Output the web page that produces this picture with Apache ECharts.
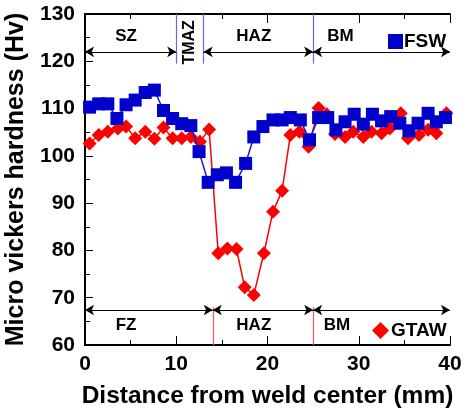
<!DOCTYPE html>
<html>
<head>
<meta charset="utf-8">
<script src="https://cdn.jsdelivr.net/npm/echarts@6/dist/echarts.min.js"></script>
<style>
  html, body { margin: 0; padding: 0; background: #fff; }
  #chart { width: 465px; height: 409px; }
</style>
</head>
<body>
<div id="chart"></div>
<script>
// hardness profiles (distance mm, hardness Hv)
const fswX = [0.5, 1.5, 2.5, 3.5, 4.5, 5.5, 6.6, 7.6, 8.6, 9.6, 10.6, 11.6, 12.5, 13.5, 14.5, 15.5, 16.5, 17.6, 18.5, 19.5,
  20.6, 21.6, 22.5, 23.6, 24.6, 25.6, 26.6, 27.5, 28.5, 29.5, 30.5, 31.5, 32.5, 33.5, 34.5, 35.5, 36.5, 37.6, 38.5, 39.5];
const fswY = [110.3, 111.0, 111.0, 107.9, 110.8, 111.8, 113.4, 113.9, 109.6, 107.9, 106.8, 106.4, 100.9, 94.4, 96.0, 96.4, 94.4, 98.4, 104.0, 106.2,
  107.6, 107.6, 108.1, 107.6, 103.4, 108.1, 108.1, 105.5, 107.2, 108.8, 106.7, 108.8, 107.4, 108.3, 106.9, 105.3, 106.9, 109.0, 107.2, 108.1];
const gtawX = [0.5, 1.5, 2.5, 3.6, 4.5, 5.5, 6.6, 7.6, 8.6, 9.6, 10.6, 11.6, 12.6, 13.6, 14.6, 15.6, 16.6, 17.5, 18.5, 19.6,
  20.6, 21.6, 22.5, 23.5, 24.5, 25.6, 26.5, 27.4, 28.5, 29.4, 30.5, 31.4, 32.5, 33.4, 34.6, 35.4, 36.6, 37.6, 38.5, 39.6];
const gtawY = [102.6, 104.4, 105.1, 105.8, 106.2, 103.7, 105.1, 103.6, 106.0, 103.7, 103.7, 104.0, 103.0, 105.6, 79.4, 80.4, 80.3, 72.2, 70.6, 79.4,
  88.2, 92.6, 104.4, 105.1, 101.9, 110.1, 108.8, 104.6, 104.0, 105.1, 104.0, 105.1, 104.8, 105.8, 109.0, 103.7, 104.4, 105.5, 104.8, 109.0];

// zone boundaries (mm) and zone labels: [from, to, name, label x]
const fswBounds = [10, 13, 25];
const fswZones = [[0, 10, "SZ", 4.5], [13, 25, "HAZ", 18.5], [25, 40, "BM", 28]];
const gtawBounds = [14, 25];
const gtawZones = [[0, 14, "FZ", 4.5], [14, 25, "HAZ", 18.5], [25, 40, "BM", 27.6]];

const chart = echarts.init(document.getElementById("chart"));

function pairs(xs, ys) {
  return xs.map((x, i) => [x, ys[i]]);
}

function arrows(zones, y) {
  return zones.map(z => [{ coord: [z[0], y] }, { coord: [z[1], y] }]);
}

function vlines(bounds, y0, y1) {
  return bounds.map(b => [{ coord: [b, y0] }, { coord: [b, y1] }]);
}

const axisFont = { fontFamily: "Liberation Sans, Arial", fontWeight: "bold", color: "#000" };

const option = {
  animation: false,
  grid: { left: 85, right: 15, top: 14, bottom: 64, outerBoundsMode: "none" },
  xAxis: [
    {
      type: "value", min: 0, max: 40, interval: 10,
      name: "Distance from weld center (mm)",
      nameLocation: "middle", nameGap: 39,
      nameTextStyle: Object.assign({ fontSize: 24.5 }, axisFont),
      axisLine: { lineStyle: { color: "#000", width: 2 } },
      axisTick: { inside: true, length: 9, lineStyle: { color: "#000", width: 1 } },
      minorTick: { show: true, splitNumber: 2, length: 5, lineStyle: { color: "#000", width: 1 } },
      axisLabel: Object.assign({ fontSize: 21, margin: 9 }, axisFont),
      splitLine: { show: false }
    },
    {
      type: "value", min: 0, max: 40, interval: 10, position: "top",
      axisLine: { lineStyle: { color: "#000", width: 2 } },
      axisTick: { inside: true, length: 9, lineStyle: { color: "#000", width: 1 } },
      minorTick: { show: true, splitNumber: 2, length: 5, lineStyle: { color: "#000", width: 1 } },
      axisLabel: { show: false },
      splitLine: { show: false }
    }
  ],
  yAxis: [
    {
      type: "value", min: 60, max: 130, interval: 10,
      name: "Micro vickers hardness (Hv)",
      nameLocation: "middle", nameGap: 48,
      nameTextStyle: Object.assign({ fontSize: 25 }, axisFont),
      axisLine: { lineStyle: { color: "#000", width: 2 } },
      axisTick: { inside: true, length: 8, lineStyle: { color: "#000", width: 1 } },
      minorTick: { show: true, splitNumber: 2, length: 5, lineStyle: { color: "#000", width: 1 } },
      axisLabel: Object.assign({ fontSize: 21, margin: 10 }, axisFont),
      splitLine: { show: false }
    },
    {
      type: "value", min: 60, max: 130, position: "right",
      axisLine: { lineStyle: { color: "#000", width: 2 } },
      axisTick: { show: false },
      axisLabel: { show: false },
      splitLine: { show: false }
    }
  ],
  legend: [
    {
      data: [{ name: "FSW", icon: "rect" }],
      left: 383, top: 27, itemWidth: 15, itemHeight: 15, itemGap: 0,
      textStyle: Object.assign({ fontSize: 19, padding: [0, 0, 0, -4] }, axisFont)
    },
    {
      data: [{ name: "GTAW", icon: "diamond" }],
      left: 367, top: 316, itemWidth: 17, itemHeight: 17, itemGap: 0,
      textStyle: Object.assign({ fontSize: 19, padding: [0, 0, 0, -3] }, axisFont)
    }
  ],
  series: [
    {
      name: "GTAW", type: "line", data: pairs(gtawX, gtawY),
      symbol: "diamond", symbolSize: 14,
      itemStyle: { color: "#ff0000" },
      lineStyle: { color: "#ff0000", width: 1.5 },
      z: 2,
      markLine: {
        silent: true, symbol: ["none", "none"], label: { show: false },
        lineStyle: { color: "#ff5555", width: 1.2, type: "solid" },
        data: vlines(gtawBounds, 68, 60)
      }
    },
    {
      name: "FSW", type: "line", data: pairs(fswX, fswY),
      symbol: "rect", symbolSize: 13,
      itemStyle: { color: "#0000cc" },
      lineStyle: { color: "#1a1acc", width: 1.5 },
      z: 3,
      markLine: {
        silent: true, symbol: ["none", "none"], label: { show: false },
        lineStyle: { color: "#6666ff", width: 1.2, type: "solid" },
        data: vlines(fswBounds, 130, 119.5)
      }
    },
    {
      name: "zones", type: "line", data: [],
      markLine: {
        silent: true, symbol: ["arrow", "arrow"], symbolSize: [8, 9], label: { show: false },
        lineStyle: { color: "#000", width: 1.2, type: "solid" },
        data: arrows(fswZones, 122).concat(arrows(gtawZones, 67.4))
      }
    }
  ]
};

chart.setOption(option);

// zone names placed at data positions
const labelFont = "bold 17px 'Liberation Sans', Arial";
const texts = [];
function addLabel(name, x, y) {
  const p = chart.convertToPixel({ xAxisIndex: 0, yAxisIndex: 0 }, [x, y]);
  texts.push({ type: "text", x: p[0], y: p[1],
    style: { text: name, font: labelFont, fill: "#000", textAlign: "center", textVerticalAlign: "middle" } });
}
fswZones.forEach(z => addLabel(z[2], z[3], 125.3));
gtawZones.forEach(z => addLabel(z[2], z[3], 64.2));
const tm = chart.convertToPixel({ xAxisIndex: 0, yAxisIndex: 0 }, [11.5, 124]);
texts.push({ type: "text", x: tm[0], y: tm[1], rotation: Math.PI / 2,
  style: { text: "TMAZ", font: "bold 16px 'Liberation Sans', Arial", fill: "#000", textAlign: "center", textVerticalAlign: "middle" } });

chart.setOption({ graphic: texts });
</script>
</body>
</html>
